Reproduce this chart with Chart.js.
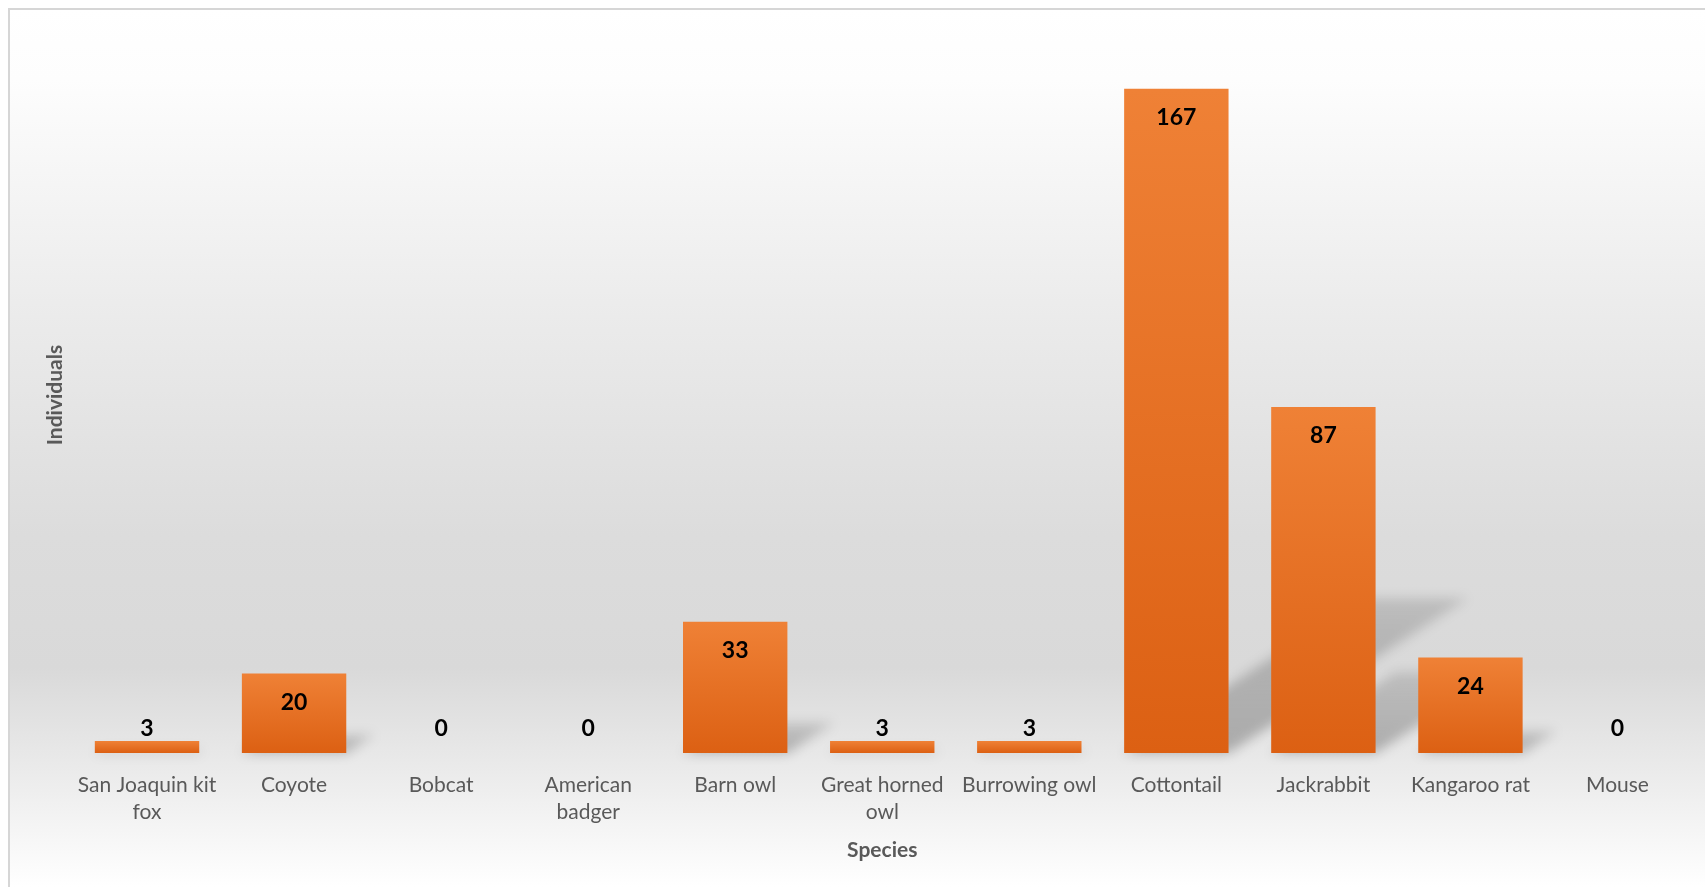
<!DOCTYPE html>
<html>
<head>
<meta charset="utf-8">
<script src="https://cdn.jsdelivr.net/npm/chart.js@4.4.1/dist/chart.umd.min.js"></script>
<style>
    html, body { margin: 0; padding: 0; background: #ffffff; }
    #chart-species { display: block; }
</style>
</head>
<body>
<canvas id="chart-species" width="1705" height="887"></canvas>
<script>
var species = [
    ['San Joaquin kit', 'fox'],
    'Coyote',
    'Bobcat',
    ['American', 'badger'],
    'Barn owl',
    ['Great horned', 'owl'],
    'Burrowing owl',
    'Cottontail',
    'Jackrabbit',
    'Kangaroo rat',
    'Mouse'
];
var individuals = [3, 20, 0, 0, 33, 3, 3, 167, 87, 24, 0];
var yMax = 180;

var FONT = 'Lato, "Open Sans", sans-serif';

// white-grey-white panel with the thin frame on top and left
var panelBackground = {
    id: 'panelBackground',
    beforeDraw: function (chart) {
        var c = chart.ctx;
        var w = chart.width, h = chart.height;
        c.save();
        c.fillStyle = '#ffffff';
        c.fillRect(0, 0, w, h);
        var g = c.createLinearGradient(0, 9, 0, h);
        g.addColorStop(0, '#ffffff');
        g.addColorStop(0.08, '#fdfdfd');
        g.addColorStop(0.35, '#ebebeb');
        g.addColorStop(0.6, '#dcdcdc');
        g.addColorStop(0.75, '#d9d9d9');
        g.addColorStop(0.87, '#ebebeb');
        g.addColorStop(1, '#ffffff');
        c.fillStyle = g;
        c.fillRect(9, 9, w - 9, h - 9);
        c.strokeStyle = '#d6d6d6';
        c.lineWidth = 2;
        c.beginPath();
        c.moveTo(9, h);
        c.lineTo(9, 9);
        c.lineTo(w, 9);
        c.stroke();
        c.restore();
    }
};

// perspective shadow thrown up and to the right of every bar
var barShadows = {
    id: 'barShadows',
    beforeDatasetsDraw: function (chart) {
        var c = chart.ctx;
        var meta = chart.getDatasetMeta(0);
        c.save();
        c.filter = 'blur(6px)';
        meta.data.forEach(function (bar) {
            var hgt = bar.base - bar.y;
            if (hgt < 2) return;
            var left = bar.x - bar.width / 2;
            var right = bar.x + bar.width / 2;
            var dx = hgt * 0.36;
            var dy = hgt * 0.233;
            var g = c.createLinearGradient(0, bar.base, 0, bar.base - dy);
            g.addColorStop(0, 'rgba(0,0,0,0.26)');
            g.addColorStop(1, 'rgba(0,0,0,0.13)');
            c.fillStyle = g;
            c.beginPath();
            c.moveTo(left, bar.base);
            c.lineTo(right, bar.base);
            c.lineTo(right + dx, bar.base - dy);
            c.lineTo(left + dx, bar.base - dy);
            c.closePath();
            c.fill();
        });
        c.restore();
    }
};

// value labels: inside the top of the bar, or sitting on the axis for short bars
var valueLabels = {
    id: 'valueLabels',
    afterDatasetsDraw: function (chart) {
        var c = chart.ctx;
        var meta = chart.getDatasetMeta(0);
        c.save();
        c.font = 'bold 23px ' + FONT;
        c.fillStyle = '#000000';
        c.textAlign = 'center';
        c.textBaseline = 'middle';
        meta.data.forEach(function (bar, i) {
            var y = Math.min(bar.y + 29, bar.base - 24);
            c.fillText(String(individuals[i]), bar.x, y);
        });
        c.restore();
    }
};

function barFill(context) {
    var chart = context.chart;
    if (!chart.chartArea) return '#E8732A';
    var yScale = chart.scales.y;
    var top = yScale.getPixelForValue(context.raw);
    var base = yScale.getPixelForValue(0);
    if (base - top < 1) return '#E8732A';
    var g = chart.ctx.createLinearGradient(0, top, 0, base);
    g.addColorStop(0, '#EF8136');
    g.addColorStop(1, '#DC6013');
    return g;
}

var ctx = document.getElementById('chart-species');
new Chart(ctx, {
    type: 'bar',
    data: {
        labels: species,
        datasets: [{
            label: 'Individuals',
            data: individuals,
            backgroundColor: barFill,
            borderWidth: 0,
            categoryPercentage: 1,
            barPercentage: 0.71
        }]
    },
    options: {
        responsive: false,
        animation: false,
        devicePixelRatio: 1,
        layout: {
            padding: { top: 37, right: 14, bottom: 20, left: 0 }
        },
        plugins: {
            legend: { display: false },
            tooltip: { enabled: false }
        },
        scales: {
            x: {
                grid: { display: false, drawTicks: false },
                border: { display: false },
                ticks: {
                    color: '#595959',
                    font: { family: FONT, size: 21, lineHeight: 1.32 },
                    padding: 18,
                    maxRotation: 0,
                    autoSkip: false
                },
                title: {
                    display: true,
                    text: 'Species',
                    color: '#595959',
                    font: { family: FONT, size: 21, weight: 'bold' },
                    padding: { top: 4, bottom: 4 }
                },
                afterFit: function (scale) { scale.height = 114; }
            },
            y: {
                min: 0,
                max: yMax,
                grid: { display: false },
                border: { display: false },
                ticks: { display: false },
                title: {
                    display: true,
                    text: 'Individuals',
                    color: '#595959',
                    font: { family: FONT, size: 21, weight: 'bold' },
                    padding: { top: 43, bottom: 0 }
                },
                afterFit: function (scale) { scale.width = 73.5; }
            }
        }
    },
    plugins: [panelBackground, barShadows, valueLabels]
});
</script>
</body>
</html>
